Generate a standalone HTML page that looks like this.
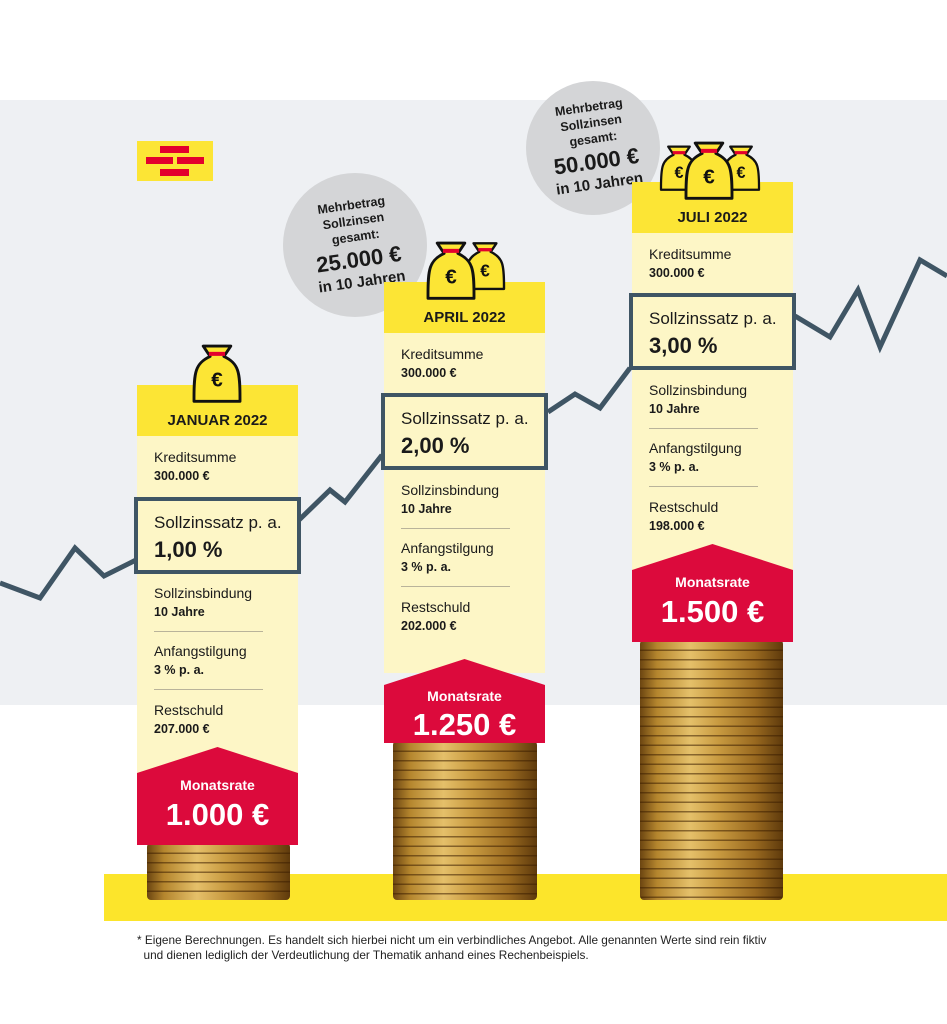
<!DOCTYPE html>
<html><head><meta charset="utf-8"><style>
*{margin:0;padding:0;box-sizing:border-box}
body{width:947px;height:1024px;background:#fff;position:relative;overflow:hidden;font-family:"Liberation Sans",sans-serif;color:#1a1a1a}
.abs{position:absolute}
.col{position:absolute;width:161px;height:460px}
.hd{position:absolute;left:0;top:0;width:161px;height:51px;background:#fce535;font-weight:bold;font-size:15px;text-align:center;line-height:20px;padding-top:26px}
.bd{position:absolute;left:0;top:51px;width:161px;height:340px;background:#fdf6c6}
.t{position:absolute;left:17px;font-size:14px;line-height:16px}
.v{position:absolute;left:17px;font-size:12.5px;font-weight:bold;line-height:16px}
.sep{position:absolute;left:17px;width:109px;height:1px;background:#b9b39a}
.box{position:absolute;left:-3px;top:112px;width:167px;height:77px;border:4px solid #3f5564;background:#fdf6c6}
.box .a{position:absolute;left:16px;top:12px;font-size:17px}
.box .b{position:absolute;left:16px;top:36px;font-size:22px;font-weight:bold}
.red{position:absolute;left:0;top:362px;width:161px;height:98px;background:#dc0a3c;clip-path:polygon(0 26px,50% 0,100% 26px,100% 100%,0 100%);color:#fff;text-align:center}
.red .m{position:absolute;top:30px;width:100%;font-size:14px;font-weight:bold}
.red .n{position:absolute;top:50px;width:100%;font-size:31px;font-weight:bold}
.coin{position:absolute;background:repeating-linear-gradient(180deg,rgba(60,30,0,.55) 0 1.5px,rgba(0,0,0,0) 1.5px 9.5px),linear-gradient(90deg,#6b4511 0%,#b5862e 12%,#e5c06a 35%,#c89a40 55%,#9a6a20 80%,#5e3a0c 100%);border-radius:4px}
.circ{position:absolute;border-radius:50%;background:#d4d5d7;text-align:center;font-weight:bold}
</style></head><body>
<div class="abs" style="left:0;top:100px;width:947px;height:605px;background:#eef0f3"></div>
<div class="abs" style="left:104px;top:874px;width:843px;height:47px;background:#fce52b"></div>
<!-- logo -->
<div class="abs" style="left:137px;top:141px;width:76px;height:40px;background:#fce535"></div>
<div class="abs" style="left:160px;top:146px;width:29px;height:7px;background:#e3002d"></div>
<div class="abs" style="left:146px;top:157px;width:27px;height:7px;background:#e3002d"></div>
<div class="abs" style="left:177px;top:157px;width:27px;height:7px;background:#e3002d"></div>
<div class="abs" style="left:160px;top:169px;width:29px;height:7px;background:#e3002d"></div>

<!-- coins -->
<div class="coin" style="left:147px;top:843px;width:143px;height:57px"></div>
<div class="coin" style="left:393px;top:741px;width:144px;height:159px"></div>
<div class="coin" style="left:640px;top:640px;width:143px;height:260px"></div>

<!-- line -->
<svg class="abs" style="left:0;top:0" width="947" height="1024"><polyline fill="none" stroke="#3f5564" stroke-width="5" points="0,583 40,598 75,548 104,576 136,560"/><polyline fill="none" stroke="#3f5564" stroke-width="5" points="299,520 330,490 345,502 382,455"/><polyline fill="none" stroke="#3f5564" stroke-width="5" points="548,412 575,394 600,408 630,368"/><polyline fill="none" stroke="#3f5564" stroke-width="5" points="795,316 830,337 858,290 880,347 920,260 947,276"/></svg>

<!-- circles -->
<div class="circ" style="left:283px;top:173px;width:144px;height:144px"><div style="transform:rotate(-8deg);padding-top:24px;font-size:12.5px;line-height:16px">Mehrbetrag<br>Sollzinsen<br>gesamt:<div style="font-size:22px;line-height:30px">25.000 €</div><div style="font-size:15px;line-height:16px">in 10 Jahren</div></div></div>
<div class="circ" style="left:526px;top:81px;width:134px;height:134px"><div style="transform:rotate(-8deg);padding-top:18px;font-size:12.5px;line-height:16px">Mehrbetrag<br>Sollzinsen<br>gesamt:<div style="font-size:22px;line-height:30px">50.000 €</div><div style="font-size:15px;line-height:16px">in 10 Jahren</div></div></div>

<!-- col1 -->
<div class="col" style="left:137px;top:385px">
<div class="bd"></div><div class="hd">JANUAR 2022</div>
<div class="t" style="top:64px">Kreditsumme</div><div class="v" style="top:83px">300.000 €</div>
<div class="box"><div class="a">Sollzinssatz p. a.</div><div class="b">1,00 %</div></div>
<div class="t" style="top:200px">Sollzinsbindung</div><div class="v" style="top:219px">10 Jahre</div>
<div class="sep" style="top:246px"></div>
<div class="t" style="top:258px">Anfangstilgung</div><div class="v" style="top:277px">3 % p. a.</div>
<div class="sep" style="top:304px"></div>
<div class="t" style="top:317px">Restschuld</div><div class="v" style="top:336px">207.000 €</div>
<div class="red"><div class="m">Monatsrate</div><div class="n">1.000 €</div></div>
</div>
<!-- col2 -->
<div class="col" style="left:384px;top:282px">
<div class="bd"></div><div class="hd">APRIL 2022</div>
<div class="t" style="top:64px">Kreditsumme</div><div class="v" style="top:83px">300.000 €</div>
<div class="box" style="top:111px"><div class="a">Sollzinssatz p. a.</div><div class="b">2,00 %</div></div>
<div class="t" style="top:200px">Sollzinsbindung</div><div class="v" style="top:219px">10 Jahre</div>
<div class="sep" style="top:246px"></div>
<div class="t" style="top:258px">Anfangstilgung</div><div class="v" style="top:277px">3 % p. a.</div>
<div class="sep" style="top:304px"></div>
<div class="t" style="top:317px">Restschuld</div><div class="v" style="top:336px">202.000 €</div>
<div class="red" style="top:377px;height:84px"><div class="m" style="top:29px">Monatsrate</div><div class="n" style="top:48px">1.250 €</div></div>
</div>
<!-- col3 -->
<div class="col" style="left:632px;top:182px">
<div class="bd"></div><div class="hd">JULI 2022</div>
<div class="t" style="top:64px">Kreditsumme</div><div class="v" style="top:83px">300.000 €</div>
<div class="box" style="top:111px"><div class="a">Sollzinssatz p. a.</div><div class="b">3,00 %</div></div>
<div class="t" style="top:200px">Sollzinsbindung</div><div class="v" style="top:219px">10 Jahre</div>
<div class="sep" style="top:246px"></div>
<div class="t" style="top:258px">Anfangstilgung</div><div class="v" style="top:277px">3 % p. a.</div>
<div class="sep" style="top:304px"></div>
<div class="t" style="top:317px">Restschuld</div><div class="v" style="top:336px">198.000 €</div>
<div class="red"><div class="m">Monatsrate</div><div class="n">1.500 €</div></div>
</div>

<!-- bags -->
<svg class="abs" style="left:0;top:0" width="947" height="1024">
<defs><g id="bag"><path d="M-12,-26 L12,-26 L6,-17 C19,-11 20,-3 20,19 L20,22 L-20,22 L-20,19 C-20,-3 -19,-11 -6,-17 Z" fill="#fce535" stroke="#111" stroke-width="2.5" stroke-linejoin="round"/><rect x="-7" y="-21" width="14" height="3.5" fill="#e3002d"/><text x="0" y="9" font-family="Liberation Sans" font-weight="bold" font-size="18" text-anchor="middle" fill="#111">€</text></g></defs>
<use href="#bag" transform="translate(217,376) scale(1.15)"/>
<use href="#bag" transform="translate(485,268) scale(0.95)"/>
<use href="#bag" transform="translate(451,273) scale(1.15)"/>
<use href="#bag" transform="translate(679,170) scale(0.9)"/>
<use href="#bag" transform="translate(741,170) scale(0.9)"/>
<use href="#bag" transform="translate(709,173) scale(1.15)"/>
</svg>

<div class="abs" style="left:137px;top:933px;font-size:11.8px;line-height:15px;color:#222">* Eigene Berechnungen. Es handelt sich hierbei nicht um ein verbindliches Angebot. Alle genannten Werte sind rein fiktiv<br>&nbsp;&nbsp;und dienen lediglich der Verdeutlichung der Thematik anhand eines Rechenbeispiels.</div>
</body></html>
